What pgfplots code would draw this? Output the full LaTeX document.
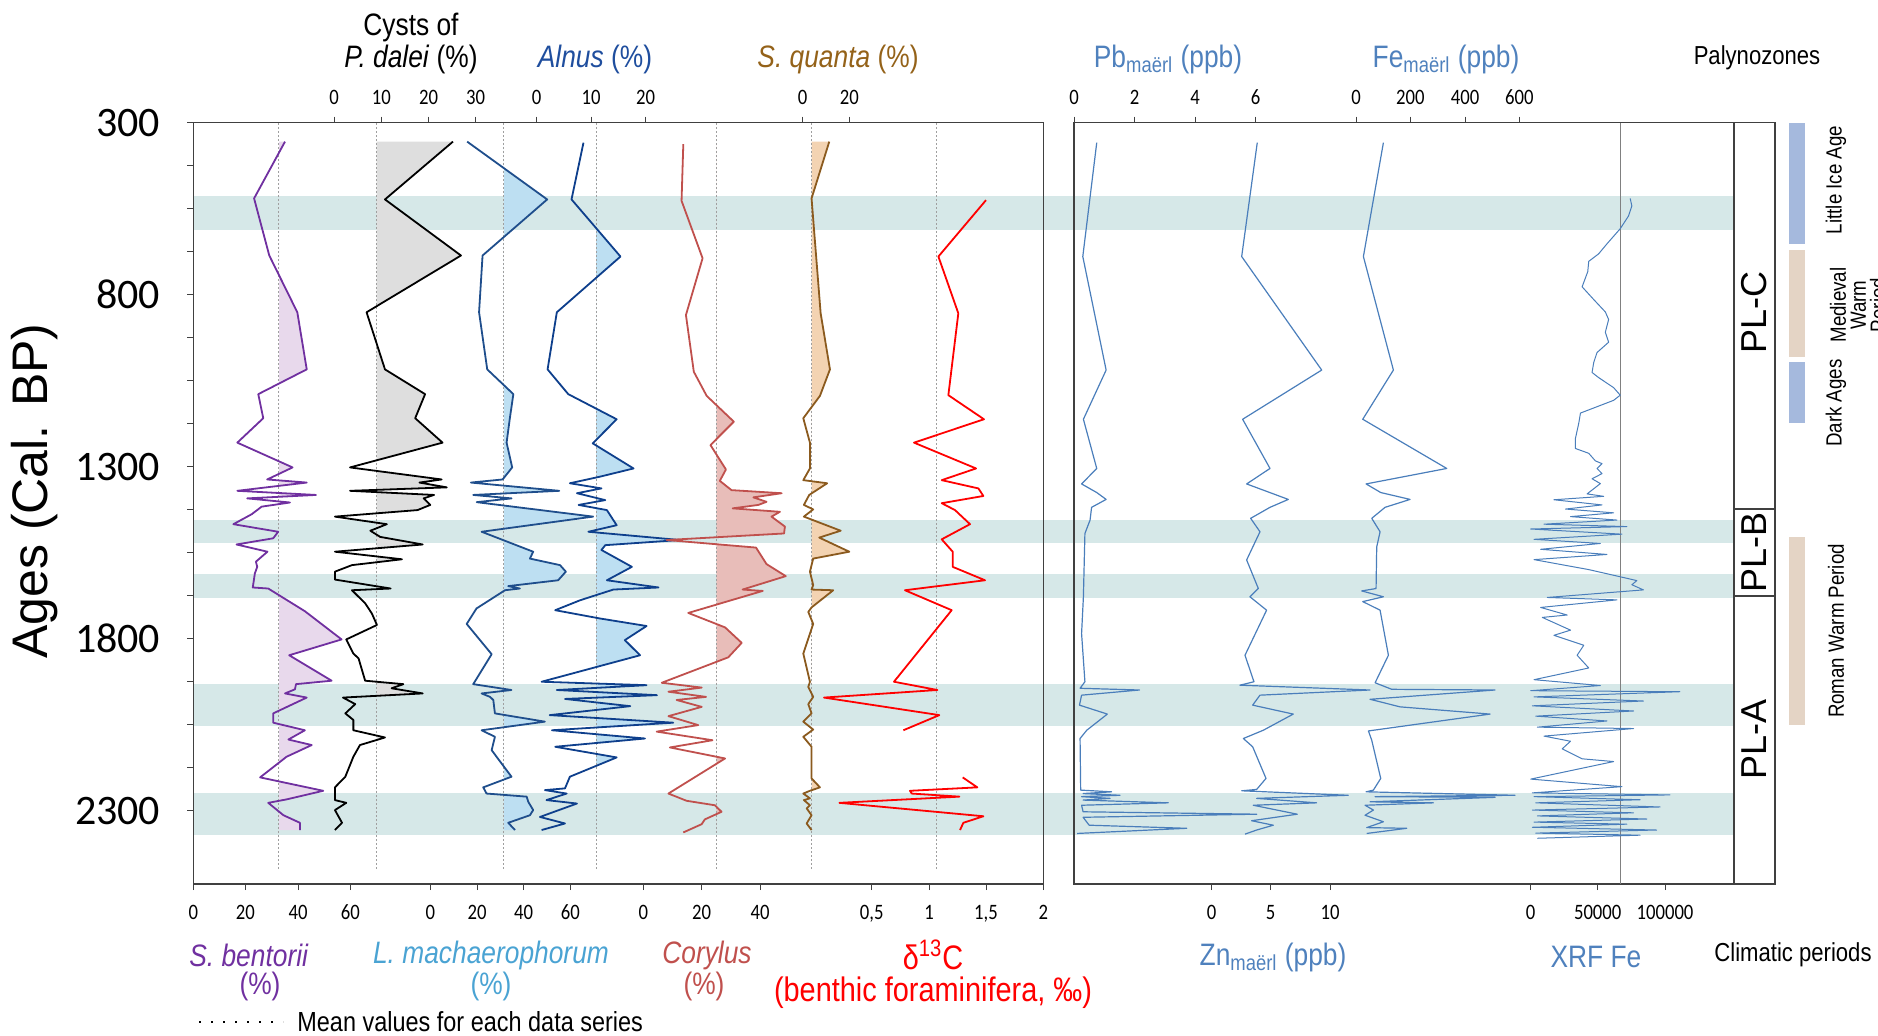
\documentclass[border=0pt]{standalone}
\usepackage{pgfplots}
\pgfplotsset{compat=1.18}
\usepackage{pgfplotstable}
\usepackage{fontspec}
\setmainfont{Liberation Sans}
\newfontfamily\nar{Liberation Sans}[FakeStretch=0.85]
\newfontfamily\carl{Carlito}
\newfontfamily\carln{Carlito}[FakeStretch=0.85]

\definecolor{framec}{HTML}{404040}
\definecolor{bandc}{HTML}{D6E8E8}
\definecolor{sbline}{HTML}{7030A0}
\definecolor{sbfill}{HTML}{E8D9EC}
\definecolor{pdfill}{HTML}{DEDEDE}
\definecolor{lmline}{HTML}{1F4E8C}
\definecolor{lmfill}{HTML}{BDDFF2}
\definecolor{lmlab}{HTML}{4AA3D3}
\definecolor{alline}{HTML}{0E3F8C}
\definecolor{allab}{HTML}{1F4E9E}
\definecolor{coline}{HTML}{C0504D}
\definecolor{cofill}{HTML}{E8BDB9}
\definecolor{sqline}{HTML}{8B5A1E}
\definecolor{sqfill}{HTML}{F3D3B2}
\definecolor{sqlab}{HTML}{946219}
\definecolor{dcline}{HTML}{FF0000}
\definecolor{rline}{HTML}{4A7EBB}
\definecolor{rlab}{HTML}{4F81BD}
\definecolor{clblue}{HTML}{A5B9DD}
\definecolor{cltan}{HTML}{E4D4C5}

% S. bentorii (%)
\pgfplotstableread{
v age
35.0 355
23.2 520
29.0 686
39.7 851
43.3 1017
24.8 1089
26.7 1159
16.8 1230
37.9 1302
28.2 1337
43.3 1346
16.8 1370
46.8 1382
20.6 1392
36.9 1404
26.1 1416
22.3 1438
15.3 1467
32.4 1489
30.5 1508
16.5 1526
28.3 1547
23.9 1576
24.4 1591
23.5 1610
22.7 1651
28.6 1654
42.6 1720
56.6 1802
36.6 1848
52.8 1922
39.2 1932
38.8 1947
35.0 1959
43.3 1971
30.5 2017
30.5 2044
42.6 2066
36.3 2093
45.2 2109
35.6 2143
25.5 2203
49.6 2242
35.6 2267
28.6 2277
34.4 2313
40.7 2335
40.7 2356
}\sbent

% Cysts of P. dalei (%)
\pgfplotstableread{
v age
25.2 355
10.8 523
26.9 686
6.9 851
10.8 1017
19.3 1089
17.2 1159
23.0 1230
3.4 1302
22.8 1337
18.1 1346
23.9 1360
3.4 1370
21.2 1382
19.0 1392
20.4 1411
17.7 1426
0.2 1445
11.2 1467
7.7 1486
9.8 1504
18.8 1526
0.2 1547
14.4 1569
3.8 1586
0.2 1605
0.2 1628
12.0 1654
3.8 1659
6.6 1697
8.0 1726
9.1 1760
2.6 1802
4.1 1843
5.2 1857
6.6 1922
14.7 1932
12.2 1944
18.8 1959
1.9 1971
4.5 1990
2.4 2017
4.1 2036
4.1 2066
10.8 2087
5.5 2109
4.1 2143
2.4 2201
0.2 2232
0.2 2269
2.6 2277
0.2 2298
1.7 2335
0.2 2356
}\pdalei

% L. machaerophorum (%)
\pgfplotstableread{
v age
15.8 355
50.1 523
22.4 686
20.9 851
24.4 1017
35.6 1089
34.1 1159
32.7 1230
35.1 1302
31.0 1337
17.4 1346
55.3 1370
18.4 1382
34.8 1392
19.9 1403
69.8 1445
22.0 1489
44.1 1547
42.7 1567
55.6 1586
58.1 1605
54.8 1630
33.4 1647
38.4 1654
32.0 1659
19.8 1712
15.6 1757
26.3 1845
18.4 1932
34.8 1949
22.0 1959
25.6 1969
27.0 1978
27.7 2017
49.1 2041
22.0 2066
27.7 2085
26.3 2124
34.8 2201
22.7 2232
24.1 2250
41.3 2259
42.0 2274
44.1 2298
42.7 2313
33.4 2335
36.3 2356
}\lmach

% Alnus (%)
\pgfplotstableread{
v age
8.6 358
6.4 523
15.4 689
3.7 851
2.0 1017
5.8 1089
14.7 1162
10.3 1232
17.8 1305
11.6 1329
6.1 1348
11.9 1363
7.4 1377
12.6 1397
7.7 1411
12.9 1426
14.7 1470
9.5 1489
26.3 1513
12.6 1528
11.9 1542
17.5 1591
12.9 1630
22.4 1651
14.1 1657
8.0 1688
3.4 1717
11.6 1741
20.2 1763
16.2 1804
19.0 1848
0.9 1925
20.2 1935
3.7 1949
22.1 1964
5.2 1975
17.2 1996
2.4 2022
25.1 2044
2.8 2066
19.9 2090
3.4 2114
14.7 2145
6.1 2201
5.2 2235
1.5 2240
5.5 2250
1.8 2269
7.4 2279
0.6 2318
5.2 2337
0.9 2356
}\alnus

% Corylus (%)
\pgfplotstableread{
v age
13.7 362
13.1 527
20.3 694
14.6 859
17.3 1024
21.7 1094
31.0 1169
23.0 1237
28.3 1308
26.2 1341
30.2 1368
47.4 1377
37.7 1389
42.2 1402
39.4 1411
30.6 1421
46.8 1431
43.9 1445
48.5 1474
48.2 1494
8.0 1513
38.6 1535
42.2 1583
48.8 1618
34.0 1657
40.9 1661
15.4 1725
28.0 1767
33.7 1812
29.1 1854
6.3 1928
20.0 1942
8.6 1954
21.5 1969
11.4 1978
20.0 1998
8.6 2025
18.8 2051
4.6 2070
23.7 2095
9.1 2116
28.0 2148
8.6 2250
14.8 2271
24.5 2284
26.8 2303
21.1 2325
20.0 2339
13.7 2363
}\corylus

% S. quanta (%)
\pgfplotstableread{
v age
11.4 355
3.8 520
7.7 854
11.7 1017
7.4 1094
0.25 1159
3.1 1230
3.1 1305
0.25 1339
10.5 1348
2.8 1382
0.5 1411
4.5 1424
0.5 1445
16.3 1486
7.1 1506
20.0 1547
4.5 1567
3.1 1605
4.5 1644
3.8 1657
13.1 1659
3.8 1709
2.4 1722
4.5 1757
0.25 1843
3.1 1925
2.4 1940
4.5 1969
2.4 1990
3.8 2017
0.25 2041
4.5 2064
0.25 2085
3.8 2114
3.8 2206
7.4 2232
3.1 2242
0.25 2250
3.1 2264
0.5 2269
3.1 2284
1.7 2293
3.8 2313
1.7 2337
3.8 2356
}\squanta

% delta 13C (benthic foraminifera, permil)
\pgfplotstableread{
v age
1.498 525
1.082 689
1.256 854
1.169 1092
1.480 1162
0.869 1230
1.411 1305
1.111 1339
1.431 1363
1.475 1385
1.111 1406
1.227 1426
1.358 1467
1.111 1511
1.207 1547
1.207 1591
1.489 1630
0.790 1659
1.198 1717
0.694 1925
1.073 1949
0.083 1971
1.090 2022
0.776 2066
nan 2130
1.294 2203
1.422 2232
0.834 2242
0.849 2250
1.265 2259
0.217 2277
1.475 2316
1.300 2335
1.271 2356
}\dcarb

% Pb maerl (ppb)
\pgfplotstableread{
v age
0.75 358
0.29 689
1.06 1019
0.31 1162
0.75 1305
0.25 1350
0.75 1375
1.06 1395
0.58 1418
0.53 1455
0.36 1494
0.31 1678
0.25 1785
0.36 1925
0.20 1944
2.16 1949
0.25 1964
0.18 1993
1.10 2019
0.42 2066
0.20 2090
0.22 2240
1.24 2245
0.30 2250
1.52 2255
0.25 2259
1.19 2264
0.30 2269
3.11 2277
0.25 2284
0.30 2303
6.03 2310
0.30 2319
0.50 2342
3.72 2351
0.10 2366
}\pb

% Zn maerl (ppb)
\pgfplotstableread{
v age
3.86 358
2.54 689
9.32 1019
2.62 1162
4.94 1305
2.96 1350
6.49 1395
4.94 1418
3.30 1450
4.09 1489
2.96 1571
3.95 1654
3.24 1678
4.65 1717
2.82 1848
3.58 1925
2.39 1935
13.41 1949
4.09 1964
3.47 1993
6.91 2019
4.37 2066
2.68 2090
3.47 2114
4.60 2206
3.81 2238
2.54 2242
11.57 2255
3.81 2264
8.89 2277
3.52 2284
7.25 2310
3.38 2329
5.22 2342
3.81 2356
2.82 2368
}\zn

% Fe maerl (ppb)
\pgfplotstableread{
v age
100.5 358
27.1 689
137.2 1019
24.7 1162
332.9 1305
36.9 1350
90.7 1375
198.4 1395
106.6 1418
57.7 1450
88.3 1489
76.0 1533
73.6 1654
21.0 1661
100.5 1678
24.7 1692
88.3 1717
118.9 1848
70.0 1928
131.1 1947
510.3 1949
51.6 1976
161.7 1998
492.0 2019
45.5 2068
57.7 2095
90.7 2206
63.8 2240
36.9 2245
583.7 2255
70.0 2259
510.3 2261
51.6 2274
284.0 2277
33.2 2284
63.8 2298
33.2 2313
100.5 2332
39.3 2349
186.1 2351
39.3 2366
}\fe

% XRF Fe
\pgfplotstableread{
v age
74070 520
75300 542
72830 571
66660 608
56790 652
50610 681
43210 703
42470 733
38270 777
46910 814
55550 850
58020 872
55550 909
58020 938
49380 968
46910 997
45680 1026
50610 1041
61720 1070
66660 1092
61720 1107
37030 1144
35800 1173
33330 1217
33330 1247
43210 1261
48150 1283
53090 1291
49380 1305
53090 1320
45680 1335
51850 1349
41970 1379
54320 1386
17280 1396
53090 1411
25920 1423
61720 1434
29630 1445
64190 1455
9870 1467
71600 1474
0 1481
67900 1496
2470 1511
51850 1523
7410 1540
56790 1555
2470 1570
43210 1599
67900 1621
79010 1631
75300 1643
83950 1658
12340 1680
64190 1687
7410 1709
27160 1731
8640 1738
29630 1775
17280 1790
39500 1819
34560 1848
43210 1885
2470 1919
51850 1936
0 1951
111100 1954
2470 1969
83950 1981
1230 1995
76540 2010
3700 2025
56790 2039
4940 2057
76540 2061
9870 2083
29630 2098
23450 2120
38270 2149
61720 2157
0 2208
67900 2230
1230 2248
103700 2254
2470 2259
81480 2268
3700 2277
96290 2289
1230 2298
76540 2306
4940 2315
86420 2324
2470 2333
71600 2339
1230 2348
93820 2356
3700 2365
81480 2371
4940 2380
}\xrf

\pgfplotsset{
  /pgfplots/table/sbx/.style={x expr=193.3+2.62*\thisrow{v}, y=age},
  /pgfplots/table/pdx/.style={x expr=334+4.72*\thisrow{v}, y=age},
  /pgfplots/table/lmx/.style={x expr=430.3+2.333*\thisrow{v}, y=age},
  /pgfplots/table/alx/.style={x expr=536.7+5.44*\thisrow{v}, y=age},
  /pgfplots/table/cox/.style={x expr=643.3+2.92*\thisrow{v}, y=age},
  /pgfplots/table/sqx/.style={x expr=802.7+2.33*\thisrow{v}, y=age},
  /pgfplots/table/dcx/.style={x expr=814.5+114.5*\thisrow{v}, y=age},
  /pgfplots/table/pbx/.style={x expr=1074+30.3*\thisrow{v}, y=age},
  /pgfplots/table/znx/.style={x expr=1211.7+11.8*\thisrow{v}, y=age},
  /pgfplots/table/fex/.style={x expr=1356+0.2725*\thisrow{v}, y=age},
  /pgfplots/table/xrfx/.style={x expr=1530.7+0.001343*\thisrow{v}, y=age},
  panel/.style={scale only axis, ymin=300, ymax=2513, y dir=reverse,
    height=380.65pt, anchor=south west},
  meanl/.style={color=gray!75, line width=0.5pt, dash pattern=on 0.7pt off 1.3pt},
  ser/.style={line width=0.9pt, no markers, line join=round},
  rser/.style={rline, line width=0.6pt, no markers, line join=round},
  ticks/.style={tick align=outside, major tick length=3pt, minor tick length=3pt,
    tick style={draw=framec, line width=0.5pt},
    xticklabel style={font=\carln\fontsize{11}{11}\selectfont, text=black}},
  botlab/.style={xticklabel style={yshift=-4pt}},
  toplab/.style={xticklabel style={yshift=2.5pt}},
}

\begin{document}
\begin{tikzpicture}
\useasboundingbox (0pt,0pt) rectangle (939pt,-517.5pt);

% horizontal bands
\begin{axis}[panel, at={(96.65pt,-442pt)}, width=770.35pt, xmin=193.3, xmax=1734, hide axis]
\addplot[fill=bandc, draw=none, no markers] coordinates {(193.3,513) (1734,513) (1734,612) (193.3,612)};
\addplot[fill=bandc, draw=none, no markers] coordinates {(193.3,1454) (1734,1454) (1734,1521) (193.3,1521)};
\addplot[fill=bandc, draw=none, no markers] coordinates {(193.3,1611) (1734,1611) (1734,1681) (193.3,1681)};
\addplot[fill=bandc, draw=none, no markers] coordinates {(193.3,1931) (1734,1931) (1734,2055) (193.3,2055)};
\addplot[fill=bandc, draw=none, no markers] coordinates {(193.3,2249) (1734,2249) (1734,2370) (193.3,2370)};
\end{axis}

% left panel
\begin{axis}[panel, ticks, botlab, at={(96.65pt,-442pt)}, width=425pt, xmin=193.3, xmax=1043.3,
  axis line style={draw=framec, line width=0.75pt},
  xtick pos=bottom, ytick pos=left,
  xtick={193.3,245.3,298,350.3,430.3,477,523.7,570.3,643.3,701.7,760,871.7,929,986,1043.3},
  xticklabels={0,20,40,60,0,20,40,60,0,20,40,{0,5},1,{1,5},2},
  ytick={300,800,1300,1800,2300}, yticklabels={300,800,1300,1800,2300},
  minor y tick num=3,
  yticklabel style={font=\carl\fontsize{21}{21}\selectfont, xshift=-10pt},
  unbounded coords=jump]
% fills above the mean
\begin{scope}\clip (axis cs:279,300) rectangle (axis cs:1043.3,2513);
\addplot[fill=sbfill, draw=none] table[sbx]{\sbent} -- (axis cs:279,2356) -- (axis cs:279,355) -- cycle;
\end{scope}
\begin{scope}\clip (axis cs:376.7,300) rectangle (axis cs:1043.3,2513);
\addplot[fill=pdfill, draw=none] table[pdx]{\pdalei} -- (axis cs:376.7,2356) -- (axis cs:376.7,355) -- cycle;
\end{scope}
\begin{scope}\clip (axis cs:503.8,300) rectangle (axis cs:1043.3,2513);
\addplot[fill=lmfill, draw=none] table[lmx]{\lmach} -- (axis cs:503.8,2356) -- (axis cs:503.8,355) -- cycle;
\end{scope}
\begin{scope}\clip (axis cs:596,300) rectangle (axis cs:1043.3,2513);
\addplot[fill=lmfill, draw=none] table[alx]{\alnus} -- (axis cs:596,2356) -- (axis cs:596,358) -- cycle;
\end{scope}
\begin{scope}\clip (axis cs:716.3,300) rectangle (axis cs:1043.3,2513);
\addplot[fill=cofill, draw=none] table[cox]{\corylus} -- (axis cs:716.3,2363) -- (axis cs:716.3,362) -- cycle;
\end{scope}
\begin{scope}\clip (axis cs:811.7,300) rectangle (axis cs:1043.3,2513);
\addplot[fill=sqfill, draw=none] table[sqx]{\squanta} -- (axis cs:811.7,2356) -- (axis cs:811.7,355) -- cycle;
\end{scope}
% mean lines
\addplot[meanl] table[sbx, row sep=\\]{v age\\ 32.7 302\\ 32.7 2473\\};
\addplot[meanl] table[pdx, row sep=\\]{v age\\ 9.05 302\\ 9.05 2473\\};
\addplot[meanl] table[lmx, row sep=\\]{v age\\ 31.5 302\\ 31.5 2473\\};
\addplot[meanl] table[alx, row sep=\\]{v age\\ 10.9 302\\ 10.9 2473\\};
\addplot[meanl] table[cox, row sep=\\]{v age\\ 25.0 302\\ 25.0 2473\\};
\addplot[meanl] table[sqx, row sep=\\]{v age\\ 3.86 302\\ 3.86 2473\\};
\addplot[meanl] table[dcx, row sep=\\]{v age\\ 1.067 302\\ 1.067 2473\\};
% series
\addplot[ser, sbline] table[sbx]{\sbent};
\addplot[ser, black] table[pdx]{\pdalei};
\addplot[ser, lmline] table[lmx]{\lmach};
\addplot[ser, alline] table[alx]{\alnus};
\addplot[ser, coline] table[cox]{\corylus};
\addplot[ser, sqline] table[sqx]{\squanta};
\addplot[ser, dcline] table[dcx]{\dcarb};
\end{axis}

% left panel top ticks
\begin{axis}[panel, ticks, toplab, at={(96.65pt,-442pt)}, width=425pt, xmin=193.3, xmax=1043.3,
  axis x line*=top, axis y line=none, axis line style={draw=framec, line width=0.75pt},
  xtick={334,381.3,428.5,475.5,536.7,591,645.5,802.7,849.3},
  xticklabels={0,10,20,30,0,10,20,0,20}]
\addplot[draw=none, no markers] coordinates {(200,400)};
\end{axis}

% right panel
\begin{axis}[panel, ticks, botlab, at={(537pt,-442pt)}, width=330pt, xmin=1074, xmax=1734,
  axis line style={draw=framec, line width=0.75pt},
  xtick pos=bottom, ytick=\empty,
  xtick={1211.7,1270.7,1330,1530.7,1597.7,1665},
  xticklabels={0,5,10,0,50000,100000}]
\addplot[gray, line width=0.5pt, no markers] table[xrfx, row sep=\\]{v age\\ 66490 300\\ 66490 2513\\};
\addplot[rser] table[pbx]{\pb};
\addplot[rser] table[znx]{\zn};
\addplot[rser] table[fex]{\fe};
\addplot[rser, line width=0.5pt] table[xrfx]{\xrf};
\end{axis}

% right panel top ticks
\begin{axis}[panel, ticks, toplab, at={(537pt,-442pt)}, width=330pt, xmin=1074, xmax=1734,
  axis x line*=top, axis y line=none, axis line style={draw=framec, line width=0.75pt},
  xtick={1074,1134.7,1195,1255.7,1356,1410.3,1465,1519.3},
  xticklabels={0,2,4,6,0,200,400,600}]
\addplot[draw=none, no markers] coordinates {(1100,400)};
\end{axis}

% palynozones
\begin{axis}[panel, at={(867pt,-442pt)}, width=20.5pt, xmin=0, xmax=1,
  xtick=\empty, ytick=\empty, axis line style={draw=framec, line width=0.75pt}]
\addplot[framec, line width=0.75pt, no markers] coordinates {(0,1423) (1,1423)};
\addplot[framec, line width=0.75pt, no markers] coordinates {(0,1676) (1,1676)};
\node[rotate=90, font=\fontsize{18}{18}\selectfont] at (axis cs:0.5,851) {PL-C};
\node[rotate=90, font=\fontsize{18}{18}\selectfont] at (axis cs:0.5,1549) {PL-B};
\node[rotate=90, font=\fontsize{18}{18}\selectfont] at (axis cs:0.5,2093) {PL-A};
\end{axis}

% climatic periods
\begin{axis}[panel, at={(894.5pt,-442pt)}, width=8pt, xmin=0, xmax=1, hide axis]
\addplot[fill=clblue, draw=none, no markers] coordinates {(0,300) (1,300) (1,652) (0,652)};
\addplot[fill=cltan, draw=none, no markers] coordinates {(0,670) (1,670) (1,980) (0,980)};
\addplot[fill=clblue, draw=none, no markers] coordinates {(0,997) (1,997) (1,1173) (0,1173)};
\addplot[fill=cltan, draw=none, no markers] coordinates {(0,1504) (1,1504) (1,2051) (0,2051)};
\end{axis}

\begin{scope}[x=0.5pt,y=-0.5pt]
\tikzset{ttl/.style={font=\nar\fontsize{15.5}{17}\selectfont, inner sep=0pt}}
\node[rotate=90, font=\fontsize{25}{28}\selectfont] at (35,491) {Ages (Cal. BP)};
\node[ttl] at (411,27) {Cysts of};
\node[ttl] at (411,59) {\textit{P. dalei} (\%)};
\node[ttl, text=allab] at (595,59) {\textit{Alnus} (\%)};
\node[ttl, text=sqlab] at (838,59) {\textit{S. quanta} (\%)};
\node[ttl, text=rlab] at (1168,59) {Pb\textsubscript{maërl} (ppb)};
\node[ttl, text=rlab] at (1446,59) {Fe\textsubscript{maërl} (ppb)};
\node[ttl, font=\nar\fontsize{13}{15}\selectfont] at (1757,58) {Palynozones};
\node[ttl, text=sbline] at (249,955) {\textit{S. bentorii}};
\node[ttl, text=sbline] at (260,986) {(\%)};
\node[ttl, text=lmlab] at (491,955) {\textit{L. machaerophorum}};
\node[ttl, text=lmlab] at (491,986) {(\%)};
\node[ttl, text=coline] at (707,955) {\textit{Corylus}};
\node[ttl, text=coline] at (704,986) {(\%)};
\node[ttl, text=dcline, font=\nar\fontsize{17}{19}\selectfont] at (933,955) {δ\textsuperscript{13}C};
\node[ttl, text=dcline, font=\nar\fontsize{17}{19}\selectfont] at (933,993) {(benthic foraminifera, ‰)};
\node[ttl, text=rlab] at (1273,957) {Zn\textsubscript{maërl} (ppb)};
\node[ttl, text=rlab] at (1596,957) {XRF Fe};
\node[ttl, font=\nar\fontsize{13}{15}\selectfont] at (1793,955) {Climatic periods};
\draw[black, line width=0.7pt, dash pattern=on 1.2pt off 4.8pt] (199,1022) -- (283,1022);
\node[ttl, anchor=west, font=\nar\fontsize{13.8}{15}\selectfont] at (297,1022) {Mean values for each data series};
\tikzset{clt/.style={rotate=90, font=\nar\fontsize{11}{10}\selectfont, inner sep=0pt, align=center}}
\node[clt] at (1836,180) {Little Ice Age};
\node[clt] at (1858,305) {Medieval\\Warm\\Period};
\node[clt] at (1836,403) {Dark Ages};
\node[clt] at (1836,631) {Roman Warm Period};
\end{scope}
\end{tikzpicture}
\end{document}
